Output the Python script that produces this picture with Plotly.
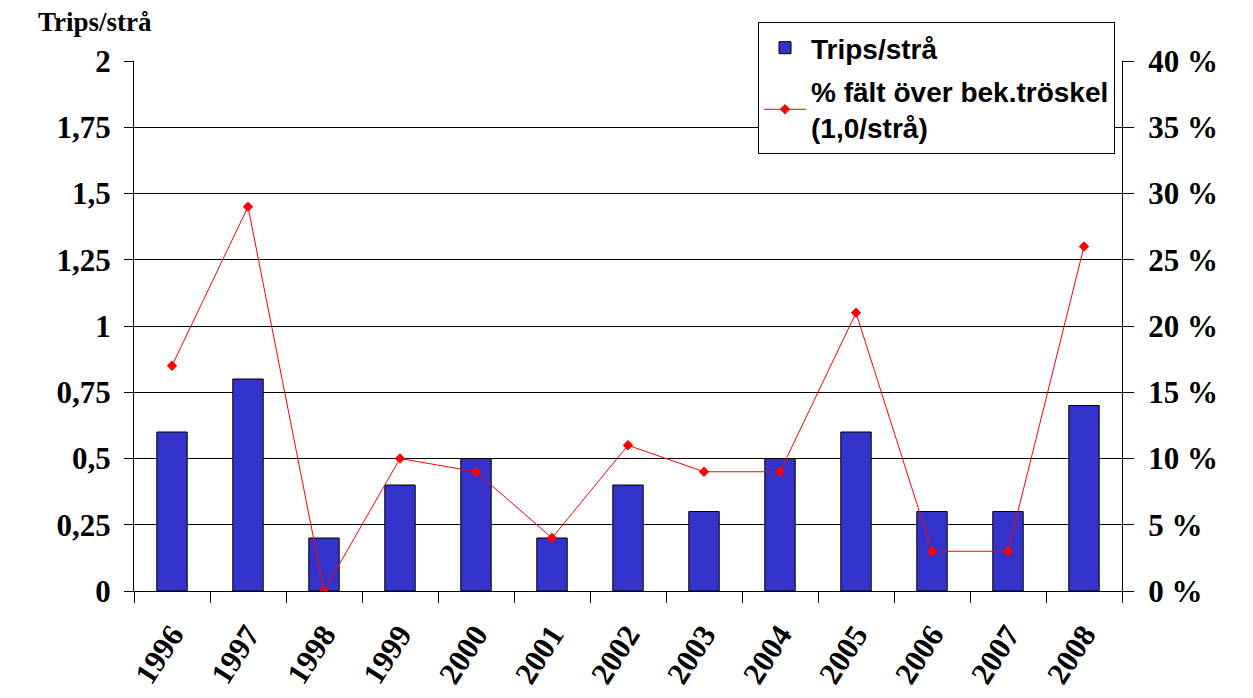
import plotly.graph_objects as go

years = ["1996", "1997", "1998", "1999", "2000", "2001", "2002", "2003",
         "2004", "2005", "2006", "2007", "2008"]
trips = [0.6, 0.8, 0.2, 0.4, 0.5, 0.2, 0.4, 0.3, 0.5, 0.6, 0.3, 0.3, 0.7]
pct_over = [17, 29, 0, 10, 9, 4, 11, 9, 9, 21, 3, 3, 26]

left_vals = [0, 0.25, 0.5, 0.75, 1, 1.25, 1.5, 1.75, 2]
left_text = ["0", "0,25", "0,5", "0,75", "1", "1,25", "1,5", "1,75", "2"]
right_vals = [0, 5, 10, 15, 20, 25, 30, 35, 40]
right_text = ["0 %", "5 %", "10 %", "15 %", "20 %", "25 %", "30 %", "35 %", "40 %"]

serif = "Liberation Serif, Times New Roman, serif"
sans = "Liberation Sans, Arial, sans-serif"

fig = go.Figure()
fig.add_trace(go.Bar(
    x=years, y=trips, name="Trips/strå", legendgroup="a",
    marker=dict(color="#3333CC", line=dict(color="black", width=1)),
    width=0.4,
))
fig.add_trace(go.Scatter(
    x=years, y=pct_over, name="% fält över bek.tröskel<br>(1,0/strå)",
    legendgroup="b",
    yaxis="y2", mode="lines+markers",
    line=dict(color="#FF0000", width=1),
    marker=dict(symbol="diamond", size=8, color="#FF0000"),
))

fig.update_layout(
    width=1245, height=690,
    margin=dict(l=126, r=131, t=53, b=107),
    plot_bgcolor="white", paper_bgcolor="white",
    showlegend=True,
    legend=dict(
        x=0.6316, y=1.0736, xanchor="left", yanchor="top",
        bgcolor="white", bordercolor="black", borderwidth=1,
        font=dict(family=sans, size=28, color="black", weight="bold"),
        tracegroupgap=4, itemwidth=42,
    ),
    xaxis=dict(
        type="category", tickson="boundaries", range=[-0.5, 12.5],
        ticks="outside", ticklen=11, tickcolor="black",
        showline=True, linecolor="black", linewidth=1,
        tickangle=-57, ticklabelstandoff=12, automargin=False,
        tickfont=dict(family=serif, size=31, color="black", weight="bold"),
        showgrid=False,
    ),
    yaxis=dict(
        range=[0, 2], tickvals=left_vals, ticktext=left_text,
        ticks="outside", ticklen=9, tickcolor="black",
        showline=True, linecolor="black", linewidth=1,
        showgrid=True, gridcolor="black", gridwidth=1,
        zeroline=False, ticklabelstandoff=7, automargin=False,
        tickfont=dict(family=serif, size=31, color="black", weight="bold"),
    ),
    yaxis2=dict(
        range=[0, 40], tickvals=right_vals, ticktext=right_text,
        overlaying="y", side="right",
        ticks="outside", ticklen=11, tickcolor="black",
        showline=True, linecolor="black", linewidth=1,
        showgrid=False, zeroline=False, ticklabelstandoff=8, automargin=False,
        tickfont=dict(family=serif, size=31, color="black", weight="bold"),
    ),
    annotations=[dict(
        text="Trips/strå", xref="paper", yref="paper",
        x=-0.0395, y=1.0736, xanchor="center", yanchor="middle",
        showarrow=False,
        font=dict(family=serif, size=27, color="black", weight="bold"),
    )],
)

fig.write_html("out.html")
